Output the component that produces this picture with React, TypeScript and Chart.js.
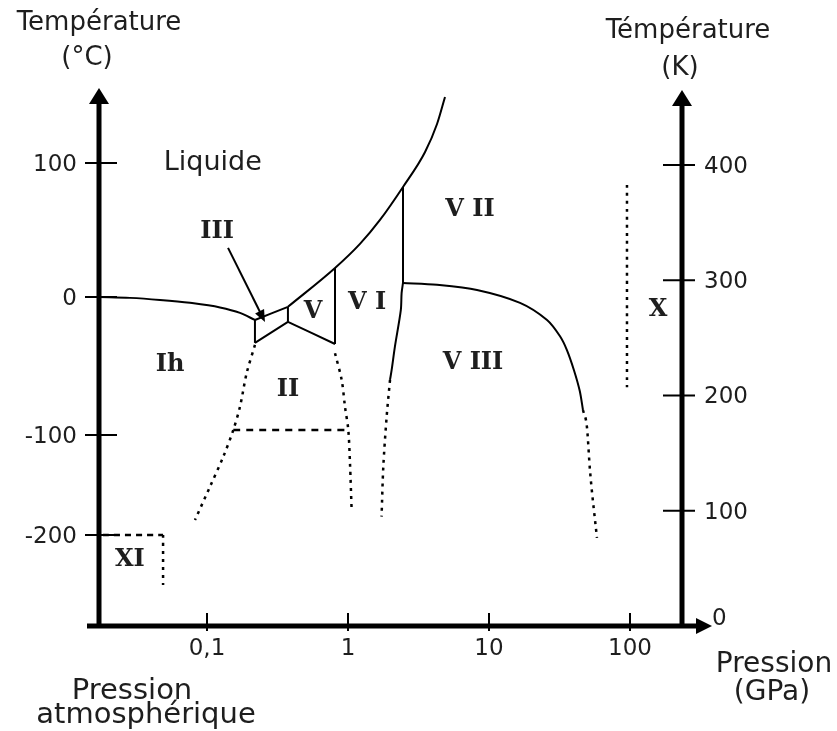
import React, { useEffect, useRef } from 'react';
import { Chart, registerables, LinearScale } from 'chart.js';

// ---------- Data: pressure (GPa), temperature (°C) ----------
const ihLiquid = [[0.0171, 0], [0.0284, -0.7], [0.0464, -2.2], [0.0757, -4.3], [0.1236, -7.6], [0.1714, -11.6], [0.2188, -16.7]];
const iiiLiquid = [[0.2188, -16.7], [0.375, -7.2]];
const meltingHighP = [[0.375, -7.2], [0.809, 21.6], [1.216, 39.6], [1.686, 57.5], [2.455, 82.1], [3.52, 108.2], [4.28, 129.1], [4.875, 149.3]];
const ihIII = [[0.2188, -16.7], [0.2188, -33.3]];
const iiiII = [[0.2188, -33.3], [0.375, -18.1]];
const iiiV = [[0.375, -7.2], [0.375, -18.1]];
const vII = [[0.375, -18.1], [0.809, -34.1]];
const vVI = [[0.809, 21.6], [0.809, -34.1]];
const viVII = [[2.455, 82.1], [2.455, 10.4]];
const viiVIII = [[2.455, 10.4], [4.28, 9.0], [8.22, 5.2], [16.6, -4.3], [25.8, -16.7], [31.9, -28.5], [35.7, -38.5], [40.0, -52.9], [44.0, -68], [46.4, -81.9]];
const viiVIIIext = [[46.4, -81.9], [49.5, -94.2], [52.0, -135], [58.3, -202.4]];
const viVIII = [[2.455, 10.4], [2.40, 2.8], [2.37, -9.4], [2.15, -36.2], [2.04, -52.9], [1.986, -60.1]];
const viVIIIext = [[1.986, -60.1], [1.88, -86.7], [1.78, -131.7], [1.73, -181.7]];
const ihIIext = [[0.2188, -34.8], [0.191, -55.3], [0.1714, -79.5], [0.1536, -96.4], [0.1305, -121.7], [0.105, -151.7], [0.0822, -185]];
const iiLowT = [[0.1536, -96.4], [1.0, -96.4]];
const iiVIext = [[0.809, -40.8], [0.902, -60.1], [0.952, -79.5], [1.005, -96.4], [1.033, -128.3], [1.062, -176.7]];
const xiTop = [[0.0183, -200], [0.0488, -200]];
const xiSide = [[0.0488, -200], [0.0488, -240.1]];
const phaseXLimit = [[95.2, 83.6], [95.2, -65.5]];

const phaseLabels = ['Ih', 'II', 'III', 'V', 'V I', 'V II', 'V III', 'X', 'XI'];
const phaseLabelP = [0.0547, 0.3754, 0.1178, 0.565, 1.364, 7.33, 7.70, 158, 0.0284];
const phaseLabelT = [-49.3, -67.4, 48.5, -10.9, -4.3, 64.9, -47.8, -9.4, -220];
const liquidLabel = 'Liquide';
const liquidLabelAt = [0.110, 100];
const arrowIII = [[0.141, 36.6], [0.2576, -18.1]];

// ---------- Axes ----------
const pressureTicks = [0.1, 1, 10, 100];
const pressureTickLabels = ['0,1', '1', '10', '100'];
const celsiusTicks = [100, 0, -100, -200];
const kelvinTicks = [400, 300, 200, 100];
const P_MIN = 0.01714;
const P_MAX = 233.8;
const K_MAX = 465;
// how the drawing lines its °C axis up against its K axis
const celsiusKnots = [-273, -200, -100, 0, 100, 154.5];
const kelvinEquivalent = [0, 79, 165.7, 285.5, 401.7, 465];

function interp(v: number, xs: number[], ys: number[]) {
  let i = 0;
  while (i < xs.length - 2 && v > xs[i + 1]) i++;
  return ys[i] + ((v - xs[i]) * (ys[i + 1] - ys[i])) / (xs[i + 1] - xs[i]);
}

class CelsiusScale extends LinearScale {
  static id = 'celsius';
  static defaults = {};
  getPixelForValue(value: number) {
    return this.getPixelForDecimal(interp(value, celsiusKnots, kelvinEquivalent) / K_MAX);
  }
  getValueForPixel(pixel: number) {
    return interp(this.getDecimalForPixel(pixel) * K_MAX, kelvinEquivalent, celsiusKnots);
  }
}

Chart.register(...registerables, CelsiusScale);

const SANS = '"DejaVu Sans"';
const SERIF = '"DejaVu Serif"';
const TEXT = '#1e1e1e';

const axesPlugin = {
  id: 'phaseAxes',
  afterDatasetsDraw(chart: any) {
    const { ctx, chartArea: a, scales } = chart;
    const sx = scales.x, sc = scales.yC, sk = scales.yK;
    ctx.save();
    ctx.strokeStyle = '#000';
    ctx.fillStyle = '#000';
    ctx.setLineDash([]);
    // axis lines
    ctx.lineWidth = 5;
    ctx.beginPath();
    ctx.moveTo(a.left, a.bottom + 2); ctx.lineTo(a.left, a.top + 10);
    ctx.moveTo(a.right, a.bottom + 2); ctx.lineTo(a.right, a.top + 10);
    ctx.moveTo(a.left - 12, a.bottom); ctx.lineTo(a.right + 16, a.bottom);
    ctx.stroke();
    // arrowheads
    const up = (cx: number, tip: number) => {
      ctx.beginPath();
      ctx.moveTo(cx, tip); ctx.lineTo(cx - 10, tip + 16); ctx.lineTo(cx + 10, tip + 16); ctx.closePath(); ctx.fill();
    };
    up(a.left, a.top - 2);
    up(a.right, a.top);
    ctx.beginPath();
    ctx.moveTo(a.right + 30, a.bottom); ctx.lineTo(a.right + 14, a.bottom - 8); ctx.lineTo(a.right + 14, a.bottom + 8); ctx.closePath(); ctx.fill();

    // ticks
    ctx.lineWidth = 2;
    ctx.beginPath();
    celsiusTicks.forEach((v) => { const y = sc.getPixelForValue(v); ctx.moveTo(a.left - 14, y); ctx.lineTo(a.left + 18, y); });
    kelvinTicks.forEach((v) => { const y = sk.getPixelForValue(v); ctx.moveTo(a.right - 19, y); ctx.lineTo(a.right + 13, y); });
    pressureTicks.forEach((v) => { const x = sx.getPixelForValue(v); ctx.moveTo(x, a.bottom - 13); ctx.lineTo(x, a.bottom + 5); });
    ctx.stroke();

    // tick labels
    ctx.fillStyle = TEXT;
    ctx.font = `23px ${SANS}`;
    ctx.textBaseline = 'alphabetic';
    ctx.textAlign = 'right';
    celsiusTicks.forEach((v) => ctx.fillText(String(v), a.left - 22, sc.getPixelForValue(v) + 8));
    ctx.textAlign = 'left';
    kelvinTicks.forEach((v) => ctx.fillText(String(v), a.right + 22, sk.getPixelForValue(v) + 8));
    ctx.fillText('0', a.right + 30, sk.getPixelForValue(0) - 1);
    ctx.textAlign = 'center';
    pressureTicks.forEach((v, i) => ctx.fillText(pressureTickLabels[i], sx.getPixelForValue(v), a.bottom + 29));

    // axis titles
    ctx.font = `26px ${SANS}`;
    ctx.fillText('Température', a.left, 30);
    ctx.fillText('(°C)', a.left - 12, 65);
    ctx.fillText('Témpérature', a.right + 6, 38);
    ctx.fillText('(K)', a.right - 2, 75);
    ctx.font = `28px ${SANS}`;
    ctx.fillText('Pression', a.right + 92, 672);
    ctx.fillText('(GPa)', a.right + 90, 700);
    ctx.font = `29px ${SANS}`;
    ctx.fillText('Pression', a.left + 33, 699);
    ctx.fillText('atmosphérique', a.left + 47, 723);

    // region labels
    ctx.textBaseline = 'middle';
    ctx.font = `27px ${SANS}`;
    ctx.fillText(liquidLabel, sx.getPixelForValue(liquidLabelAt[0]), sc.getPixelForValue(liquidLabelAt[1]));
    ctx.font = `bold 24px ${SERIF}`;
    phaseLabels.forEach((t, i) => ctx.fillText(t, sx.getPixelForValue(phaseLabelP[i]), sc.getPixelForValue(phaseLabelT[i])));

    // arrow pointing to III
    const x0 = sx.getPixelForValue(arrowIII[0][0]), y0 = sc.getPixelForValue(arrowIII[0][1]);
    const x1 = sx.getPixelForValue(arrowIII[1][0]), y1 = sc.getPixelForValue(arrowIII[1][1]);
    const ang = Math.atan2(y1 - y0, x1 - x0);
    ctx.strokeStyle = '#000';
    ctx.fillStyle = '#000';
    ctx.lineWidth = 2;
    ctx.beginPath();
    ctx.moveTo(x0, y0); ctx.lineTo(x1 - 6 * Math.cos(ang), y1 - 6 * Math.sin(ang));
    ctx.stroke();
    ctx.beginPath();
    ctx.moveTo(x1, y1);
    ctx.lineTo(x1 - 12 * Math.cos(ang) + 5 * Math.sin(ang), y1 - 12 * Math.sin(ang) - 5 * Math.cos(ang));
    ctx.lineTo(x1 - 12 * Math.cos(ang) - 5 * Math.sin(ang), y1 - 12 * Math.sin(ang) + 5 * Math.cos(ang));
    ctx.closePath();
    ctx.fill();
    ctx.restore();
  },
};

const SOLID: number[] = [];
const DOTTED = [3, 5];
const DASHED = [7, 6];

function series(points: number[][], dash: number[], smooth: 'monotone' | 'bezier' | 'none' = 'bezier') {
  return {
    data: points.map(([p, t]) => ({ x: p, y: t })),
    yAxisID: 'yC',
    showLine: true,
    pointRadius: 0,
    borderColor: '#000',
    borderWidth: dash.length ? 2.5 : 2,
    borderDash: dash,
    tension: smooth === 'none' ? 0 : 0.3,
    cubicInterpolationMode: smooth === 'monotone' ? 'monotone' : 'default',
    fill: false,
    clip: false,
  };
}

export default function App() {
  const ref = useRef<HTMLCanvasElement>(null);
  useEffect(() => {
    if (!ref.current) return;
    const chart = new Chart(ref.current, {
      type: 'scatter',
      data: {
        datasets: [
          series(ihLiquid, SOLID, 'monotone'),
          series(iiiLiquid, SOLID),
          series(meltingHighP, SOLID, 'monotone'),
          series(ihIII, SOLID),
          series(iiiII, SOLID),
          series(iiiV, SOLID),
          series(vII, SOLID),
          series(vVI, SOLID),
          series(viVII, SOLID),
          series(viiVIII, SOLID, 'bezier'),
          series(viiVIIIext, DOTTED, 'monotone'),
          series(viVIII, SOLID),
          series(viVIIIext, DOTTED),
          series(ihIIext, DOTTED),
          series(iiLowT, DASHED),
          series(iiVIext, DOTTED),
          series(xiTop, [6, 5]),
          series(xiSide, DOTTED),
          series(phaseXLimit, DOTTED),
        ] as any,
      },
      options: {
        animation: false,
        responsive: false,
        devicePixelRatio: 1,
        events: [],
        layout: { padding: { left: 99, right: 155, top: 90, bottom: 105 } },
        plugins: { legend: { display: false }, tooltip: { enabled: false } },
        scales: {
          x: { type: 'logarithmic', min: P_MIN, max: P_MAX, display: false },
          yC: { type: 'celsius', position: 'left', min: -273, max: 154.5, display: false } as any,
          yK: { type: 'linear', position: 'right', min: 0, max: K_MAX, display: false },
        },
      },
      plugins: [axesPlugin],
    });
    return () => chart.destroy();
  }, []);
  return (
    <div style={{ position: 'fixed', left: 0, top: 0, width: 837, height: 731, background: '#fff' }}>
      <canvas ref={ref} width={837} height={731} style={{ width: 837, height: 731, display: 'block' }} />
    </div>
  );
}
